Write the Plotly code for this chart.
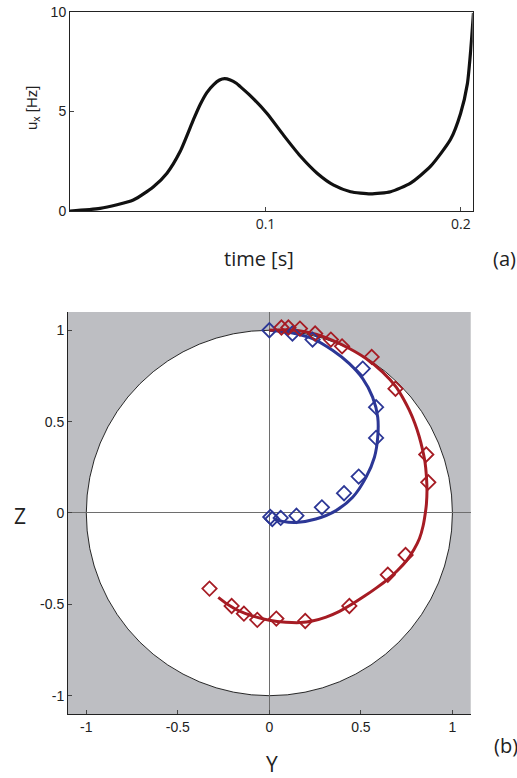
import plotly.graph_objects as go

# ---- panel (a) data ----
t_s = [0, 0.0154, 0.0324, 0.0427, 0.0496, 0.0564, 0.0632, 0.0666, 0.0700, 0.0735,
       0.0765, 0.0791, 0.0820, 0.0851, 0.0871, 0.0922, 0.1008, 0.1093, 0.1179,
       0.1264, 0.1349, 0.1435, 0.1537, 0.164, 0.1742, 0.1845, 0.1947, 0.1998,
       0.2033, 0.205, 0.2064]
u_x = [0, 0.13, 0.55, 1.22, 1.9, 3.0, 4.6, 5.35, 5.95, 6.35,
       6.58, 6.65, 6.58, 6.42, 6.25, 5.8, 4.9, 3.8, 2.75,
       1.9, 1.3, 0.97, 0.86, 0.97, 1.4, 2.25, 3.6, 4.9,
       6.4, 8.1, 9.95]
time_ticks = [0.1, 0.2]
u_ticks = [0, 5, 10]

# ---- panel (b) data ----
blue_fit_Y = [0, 0.126, 0.236, 0.345, 0.437, 0.51, 0.564, 0.592, 0.592, 0.574,
              0.528, 0.455, 0.364, 0.254, 0.145, 0.071, 0.026]
blue_fit_Z = [1.0, 0.985, 0.954, 0.89, 0.817, 0.735, 0.634, 0.524, 0.415, 0.305,
              0.195, 0.086, 0.013, -0.033, -0.052, -0.046, -0.033]
blue_pts_Y = [0, 0.126, 0.236, 0.51, 0.583, 0.583, 0.488, 0.408, 0.287, 0.148, 0.062, 0.016, 0.005]
blue_pts_Z = [1.0, 0.982, 0.949, 0.79, 0.579, 0.411, 0.199, 0.108, 0.031, -0.015, -0.027, -0.033, -0.022]

red_fit_Y = [0, 0.071, 0.163, 0.254, 0.345, 0.437, 0.528, 0.619, 0.693, 0.735, 0.765,
             0.795, 0.818, 0.836, 0.85, 0.858, 0.861, 0.858, 0.852, 0.84, 0.82, 0.79,
             0.75, 0.70, 0.645, 0.585, 0.52, 0.45, 0.38, 0.31, 0.24, 0.17, 0.09, 0.0,
             -0.08, -0.166, -0.229, -0.279]
red_fit_Z = [1.0, 1.003, 0.998, 0.978, 0.945, 0.9, 0.845, 0.771, 0.689, 0.62, 0.561,
             0.49, 0.42, 0.35, 0.28, 0.2, 0.12, 0.05, 0.0, -0.07, -0.14, -0.20,
             -0.26, -0.315, -0.365, -0.41, -0.455, -0.50, -0.54, -0.57, -0.59, -0.60, -0.598, -0.587,
             -0.567, -0.536, -0.5, -0.462]
red_pts_Y = [0.066, 0.104, 0.167, 0.25, 0.336, 0.397, 0.559, 0.689, 0.857, 0.868,
             0.744, 0.647, 0.437, 0.196, 0.038, -0.066, -0.139, -0.206, -0.327]
red_pts_Z = [1.015, 1.015, 1.009, 0.982, 0.949, 0.912, 0.854, 0.68, 0.32, 0.168,
             -0.23, -0.338, -0.509, -0.591, -0.578, -0.585, -0.551, -0.509, -0.414]
yz_ticks = [-1, -0.5, 0, 0.5, 1]
yz_labels = ["-1", "-0.5", "0", "0.5", "1"]

BLUE = "#2c3796"
RED = "#a61c24"
GRAY = "#bdbec2"
TICKFONT = dict(family="Liberation Sans, Arial", size=14, color="#222")

fig = go.Figure()

fig.add_trace(go.Scatter(x=t_s, y=u_x, mode="lines",
                         line=dict(color="#111", width=3.2, shape="spline", smoothing=0.6),
                         xaxis="x", yaxis="y", showlegend=False))

fig.add_trace(go.Scatter(x=blue_fit_Y, y=blue_fit_Z, mode="lines",
                         line=dict(color=BLUE, width=3, shape="spline", smoothing=0.8),
                         xaxis="x2", yaxis="y2", showlegend=False))
fig.add_trace(go.Scatter(x=red_fit_Y, y=red_fit_Z, mode="lines",
                         line=dict(color=RED, width=3, shape="spline", smoothing=0.6),
                         xaxis="x2", yaxis="y2", showlegend=False))
fig.add_trace(go.Scatter(x=blue_pts_Y, y=blue_pts_Z, mode="markers",
                         marker=dict(symbol="diamond-open", size=11, color=BLUE, line=dict(width=1.8, color=BLUE)),
                         xaxis="x2", yaxis="y2", showlegend=False))
fig.add_trace(go.Scatter(x=red_pts_Y, y=red_pts_Z, mode="markers",
                         marker=dict(symbol="diamond-open", size=11, color=RED, line=dict(width=1.8, color=RED)),
                         xaxis="x2", yaxis="y2", showlegend=False))

fig.update_layout(
    width=517, height=778, autosize=False,
    margin=dict(l=0, r=0, t=0, b=0, pad=0),
    paper_bgcolor="white", plot_bgcolor="white",
    xaxis=dict(domain=[0.1354, 0.9143], range=[0, 0.206], tickvals=time_ticks,
               ticktext=["0.1", "0.2"], ticks="inside", ticklen=4, showline=True,
               mirror=True, linecolor="#222", linewidth=1, showgrid=False, zeroline=False,
               automargin=False,
               tickfont=dict(family="Open Sans, Noto Sans", size=14, color="#222"), anchor="y"),
    yaxis=dict(domain=[0.7288, 0.9846], range=[0, 10], tickvals=u_ticks,
               ticks="inside", ticklen=4, showline=True, mirror=True, linecolor="#222",
               linewidth=1, showgrid=False, zeroline=False, automargin=False,
               tickfont=TICKFONT, anchor="x"),
    xaxis2=dict(domain=[0.1315, 0.9105], range=[-1.1, 1.1], tickvals=yz_ticks, ticktext=yz_labels,
                ticks="inside", ticklen=4, showline=True, linecolor="#222", linewidth=1,
                showgrid=False, zeroline=True, zerolinecolor="#6e6e6e", zerolinewidth=1,
                automargin=False, tickfont=TICKFONT, anchor="y2"),
    yaxis2=dict(domain=[0.0823, 0.599], range=[-1.1, 1.1], tickvals=yz_ticks, ticktext=yz_labels,
                ticks="inside", ticklen=4, showline=True, linecolor="#222", linewidth=1,
                showgrid=False, zeroline=True, zerolinecolor="#6e6e6e", zerolinewidth=1,
                automargin=False, tickfont=TICKFONT, anchor="x2"),
)

fig.add_shape(type="rect", xref="x2 domain", yref="y2 domain", x0=0, x1=1, y0=0, y1=1,
              fillcolor=GRAY, line=dict(width=0), layer="below")
fig.add_shape(type="circle", xref="x2", yref="y2", x0=-1, x1=1, y0=-1, y1=1,
              fillcolor="white", line=dict(color="#111", width=0.9), layer="below")

TITLEFONT = dict(family="Open Sans, Noto Sans", color="#222")


def label(text, px, py, size, family=None, angle=0):
    font = dict(TITLEFONT, size=size)
    if family:
        font["family"] = family
    fig.add_annotation(text=text, xref="paper", yref="paper", x=px / 517, y=1 - py / 778,
                       xanchor="center", yanchor="middle", showarrow=False,
                       textangle=angle, font=font)


label("time [s]", 259, 258, 20)
label("(a)", 504, 258, 20)
label("u<sub>x</sub> [Hz]", 32, 108, 15, family="Liberation Sans, Arial", angle=-90)
label("Z", 20, 516, 21)
label("Y", 272, 764, 21)
label("(b)", 506, 745, 20)

fig.write_html("out.html")
